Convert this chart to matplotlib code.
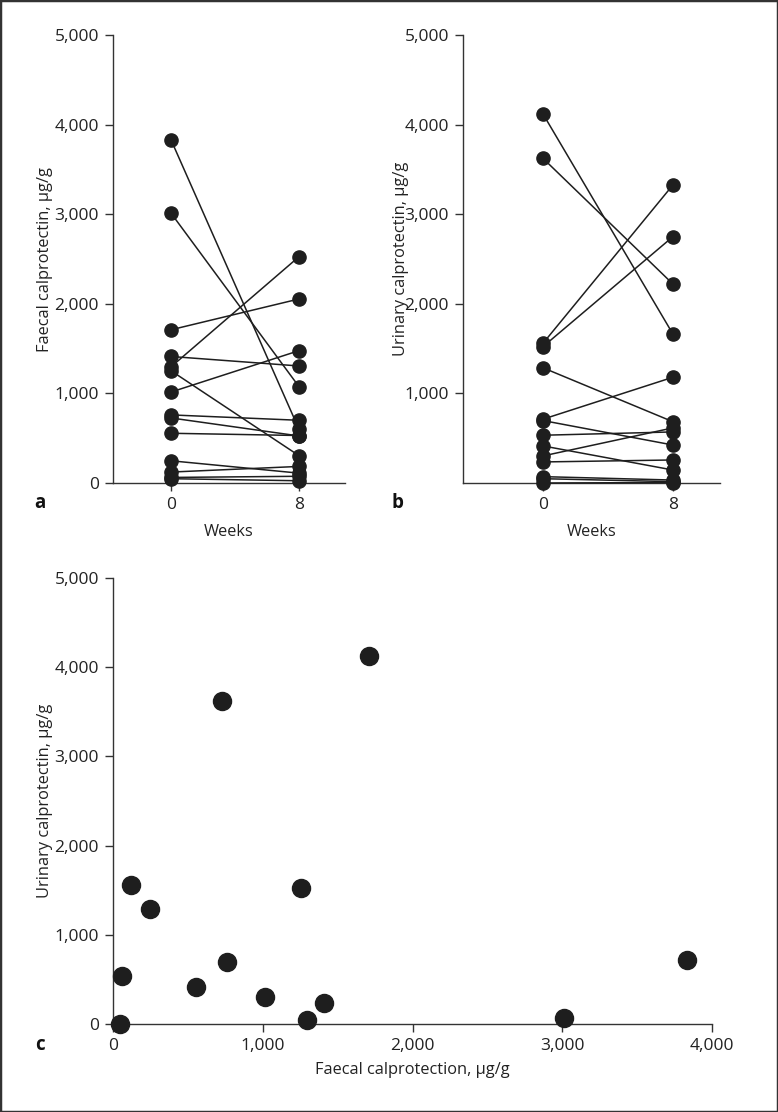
import matplotlib
matplotlib.use("Agg")
import matplotlib.pyplot as plt
from matplotlib.patches import Rectangle

plt.rcParams['font.family'] = ['Open Sans', 'DejaVu Sans']

# ---- data (one entry per patient) ----
weeks = [0, 8]
faecal_wk0 = [3830, 3012, 1710, 1412, 1296, 1253, 1015, 760, 726, 555, 248, 122, 62, 48]
faecal_wk8 = [600, 1075, 2054, 1306, 2526, 305, 1477, 700, 525, 530, 110, 185, 75, 25]
urinary_wk0 = [712, 71, 4120, 235, 48, 1521, 302, 697, 3624, 414, 1286, 1558, 533, 0]
urinary_wk8 = [1180, 33, 1663, 257, 15, 2749, 615, 424, 2221, 145, 684, 3326, 570, 5]

y_ticks = [0, 1000, 2000, 3000, 4000, 5000]
y_ticklabels = ['0', '1,000', '2,000', '3,000', '4,000', '5,000']
x_ticks_c = [0, 1000, 2000, 3000, 4000]
x_ticklabels_c = ['0', '1,000', '2,000', '3,000', '4,000']

W, H = 778, 1112
fig = plt.figure(figsize=(W / 100, H / 100), dpi=100)
fig.patches.append(Rectangle((0, 0), 1, 1, transform=fig.transFigure,
                             fill=False, edgecolor='#333333', linewidth=2.5))

def px_axes(left, right, top, bottom):
    return fig.add_axes([left / W, 1 - bottom / H, (right - left) / W, (bottom - top) / H])

ink = '#1e1e1e'
TFS = 12.5
LFS = 11.8

def style(ax):
    for s in ['top', 'right']:
        ax.spines[s].set_visible(False)
    for s in ['left', 'bottom']:
        ax.spines[s].set_linewidth(1.0)
        ax.spines[s].set_color('#333333')
    ax.tick_params(direction='out', length=6, width=1.0, colors='#333333',
                   labelsize=TFS, labelcolor='#222222', pad=4)

def paired(ax, wk0, wk8, x0lim, x1lim, show_zero):
    for a, b in zip(wk0, wk8):
        ax.plot(weeks, [a, b], color=ink, linewidth=1.1, marker='o', markersize=9.5,
                markerfacecolor=ink, markeredgecolor=ink, clip_on=False, zorder=3)
    ax.set_xlim(x0lim, x1lim)
    ax.set_ylim(0, 5000)
    ax.spines['left'].set_bounds(0, 5000)
    ax.set_xticks(weeks)
    ax.set_xticklabels(['0', '8'])
    if show_zero:
        ax.set_yticks(y_ticks)
        ax.set_yticklabels(y_ticklabels)
    else:
        ax.set_yticks(y_ticks[1:])
        ax.set_yticklabels(y_ticklabels[1:])
    ax.set_xlabel('Weeks', fontsize=LFS, color='#222222', labelpad=8)
    style(ax)

# panel a
ax_a = px_axes(113, 345, 35, 483)
paired(ax_a, faecal_wk0, faecal_wk8, -3.625, 10.875, True)
ax_a.set_ylabel('Faecal calprotectin, μg/g', fontsize=LFS, color='#222222', labelpad=1)

# panel b
ax_b = px_axes(463, 720, 35, 483)
paired(ax_b, urinary_wk0, urinary_wk8, -4.92, 10.9, False)
ax_b.set_ylabel('Urinary calprotectin, μg/g', fontsize=LFS, color='#222222', labelpad=-3)

# panel c
ax_c = px_axes(113, 712, 578, 1024)
ax_c.plot(faecal_wk0, urinary_wk0, linestyle='none', marker='o', markersize=13,
          color=ink, markeredgecolor=ink, clip_on=False, zorder=3)
ax_c.set_xlim(0, 4000)
ax_c.set_ylim(0, 5000)
ax_c.set_xticks(x_ticks_c)
ax_c.set_xticklabels(x_ticklabels_c)
ax_c.set_yticks(y_ticks)
ax_c.set_yticklabels(y_ticklabels)
ax_c.set_xlabel('Faecal calprotection, μg/g', fontsize=LFS, color='#222222', labelpad=6)
ax_c.set_ylabel('Urinary calprotectin, μg/g', fontsize=LFS, color='#222222', labelpad=1)
style(ax_c)

# panel letters
for txt, x, y in [('a', 40, 503), ('b', 398, 503), ('c', 40, 1045)]:
    fig.text(x / W, 1 - y / H, txt, fontsize=13.5, fontweight='bold',
             ha='center', va='center', color='#111111')

fig.savefig('out.png', dpi=100)
